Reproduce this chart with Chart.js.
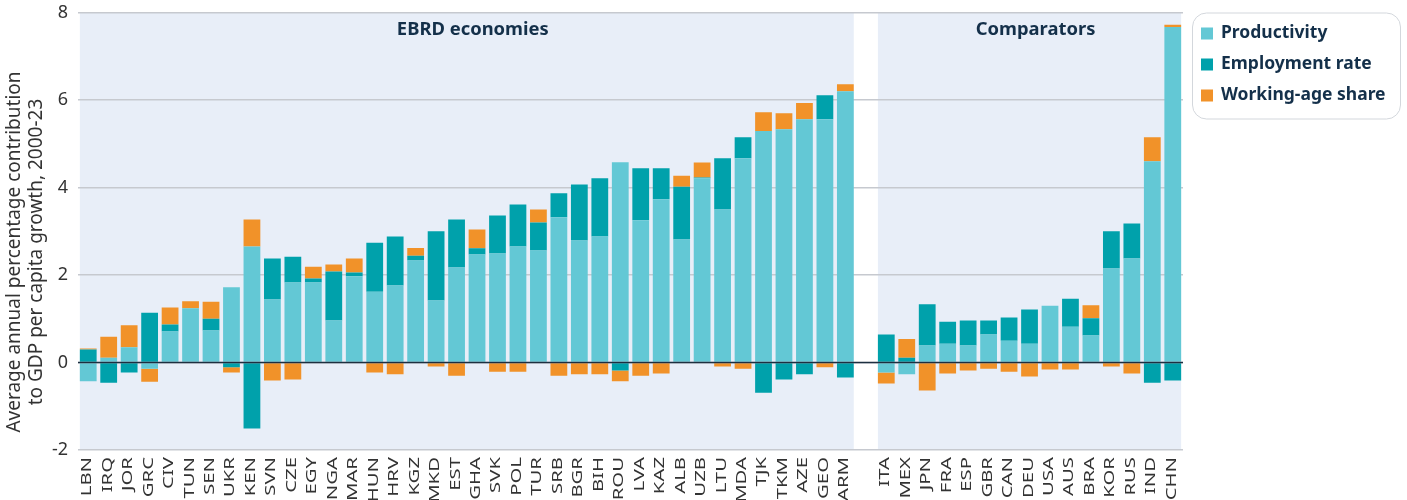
<!DOCTYPE html>
<html>
<head>
<meta charset="utf-8">
<script src="https://cdn.jsdelivr.net/npm/chart.js@4"></script>
<style>
  body { margin: 0; background: #fff; }
  canvas { display: block; }
</style>
</head>
<body>
<canvas id="chart" width="1407" height="500"></canvas>
<script>
// country codes: 38 EBRD economies, one empty slot as the gap, then 15 comparators
const ebrdCountries = ['LBN', 'IRQ', 'JOR', 'GRC', 'CIV', 'TUN', 'SEN', 'UKR', 'KEN', 'SVN', 'CZE', 'EGY', 'NGA', 'MAR',
    'HUN', 'HRV', 'KGZ', 'MKD', 'EST', 'GHA', 'SVK', 'POL', 'TUR', 'SRB', 'BGR', 'BIH', 'ROU', 'LVA', 'KAZ', 'ALB',
    'UZB', 'LTU', 'MDA', 'TJK', 'TKM', 'AZE', 'GEO', 'ARM'];
const comparatorCountries = ['ITA', 'MEX', 'JPN', 'FRA', 'ESP', 'GBR', 'CAN', 'DEU', 'USA', 'AUS', 'BRA', 'KOR', 'RUS', 'IND', 'CHN'];

const ebrdProductivity = [-0.43, 0.11, 0.35, -0.14, 0.71, 1.24, 0.73, 1.72, 2.65, 1.44, 1.83, 1.83, 0.96, 1.97,
    1.62, 1.76, 2.33, 1.42, 2.17, 2.47, 2.49, 2.65, 2.56, 3.32, 2.79, 2.88, 4.58, 3.25, 3.73, 2.81,
    4.21, 3.50, 4.67, 5.29, 5.33, 5.56, 5.56, 6.20];
const ebrdEmployment = [0.30, -0.46, -0.23, 1.14, 0.16, 0, 0.27, -0.11, -1.51, 0.94, 0.59, 0.09, 1.12, 0.09,
    1.12, 1.12, 0.11, 1.58, 1.10, 0.14, 0.87, 0.96, 0.64, 0.55, 1.28, 1.33, -0.18, 1.19, 0.71, 1.21,
    0.02, 1.17, 0.48, -0.69, -0.39, -0.27, 0.55, -0.34];
const ebrdWorkingAge = [0.02, 0.48, 0.50, -0.30, 0.39, 0.16, 0.39, -0.12, 0.62, -0.41, -0.39, 0.27, 0.16, 0.32,
    -0.23, -0.27, 0.18, -0.09, -0.30, 0.43, -0.21, -0.21, 0.30, -0.30, -0.27, -0.27, -0.25, -0.30, -0.25, 0.25,
    0.34, -0.09, -0.14, 0.43, 0.37, 0.37, -0.11, 0.16];

const compProductivity = [-0.23, -0.27, 0.39, 0.43, 0.39, 0.64, 0.50, 0.43, 1.30, 0.82, 0.62, 2.15, 2.38, 4.60, 7.67];
const compEmployment = [0.64, 0.11, 0.94, 0.50, 0.57, 0.32, 0.53, 0.78, 0, 0.64, 0.39, 0.85, 0.80, -0.46, -0.41];
const compWorkingAge = [-0.25, 0.43, -0.64, -0.25, -0.18, -0.14, -0.21, -0.32, -0.16, -0.16, 0.30, -0.09, -0.25, 0.55, 0.05];

const yTicks = [-2, 0, 2, 4, 6, 8];
const yTitle = ['Average annual percentage contribution', 'to GDP per capita growth, 2000-23'];
const seriesNames = ['Productivity', 'Employment rate', 'Working-age share'];
const seriesColors = ['#63c8d5', '#00a1ab', '#f19229'];
const panelTitles = ['EBRD economies', 'Comparators'];

const labels = [...ebrdCountries, '', ...comparatorCountries];
const productivity = [...ebrdProductivity, null, ...compProductivity];
const employment = [...ebrdEmployment, null, ...compEmployment];
const workingAge = [...ebrdWorkingAge, null, ...compWorkingAge];

const FONT = '"Noto Sans", "Open Sans", sans-serif';
const TEXT_DARK = '#14304a';
const BAR_SHARE = 0.82;

const panelPlugin = {
    id: 'panels',
    // shaded panels behind the two groups
    beforeDraw(chart) {
        const { ctx, chartArea, scales: { x } } = chart;
        const pitch = x.getPixelForValue(1) - x.getPixelForValue(0);
        const half = pitch * BAR_SHARE / 2;
        const n = ebrdCountries.length;
        ctx.save();
        ctx.fillStyle = '#e8eef8';
        const l1 = x.getPixelForValue(0) - half;
        const r1 = x.getPixelForValue(n - 1) + half;
        ctx.fillRect(l1, chartArea.top, r1 - l1, chartArea.bottom - chartArea.top);
        const l2 = x.getPixelForValue(n + 1) - half;
        const r2 = x.getPixelForValue(labels.length - 1) + half;
        ctx.fillRect(l2, chartArea.top, r2 - l2, chartArea.bottom - chartArea.top);
        ctx.restore();
    },
    afterDatasetsDraw(chart) {
        const { ctx, chartArea, scales: { x, y } } = chart;
        // zero line over the bars
        const y0 = y.getPixelForValue(0);
        ctx.save();
        ctx.strokeStyle = '#1d2f40';
        ctx.lineWidth = 1.5;
        ctx.beginPath();
        ctx.moveTo(chartArea.left, y0);
        ctx.lineTo(chartArea.right, y0);
        ctx.stroke();

        // panel titles
        const n = ebrdCountries.length;
        ctx.fillStyle = TEXT_DARK;
        ctx.font = 'bold 18.4px ' + FONT;
        ctx.textAlign = 'center';
        ctx.textBaseline = 'middle';
        const c1 = (x.getPixelForValue(0) + x.getPixelForValue(n - 1)) / 2;
        const c2 = (x.getPixelForValue(n + 1) + x.getPixelForValue(labels.length - 1)) / 2;
        ctx.fillText(panelTitles[0], c1 + 6, chartArea.top + 17);
        ctx.fillText(panelTitles[1], c2 + 6, chartArea.top + 17);

        // country labels, rotated and drawn a bit stretched like the original
        ctx.fillStyle = '#333';
        ctx.font = '14px ' + FONT;
        ctx.textAlign = 'right';
        labels.forEach((lab, i) => {
            if (!lab) return;
            ctx.save();
            ctx.translate(x.getPixelForValue(i) - 1, chartArea.bottom + 7);
            ctx.rotate(-Math.PI / 2);
            ctx.scale(1.45, 1);
            ctx.fillText(lab, 0, 0);
            ctx.restore();
        });

        // y axis title, centred on the whole figure height
        ctx.fillStyle = '#333';
        ctx.font = '19px ' + FONT;
        ctx.textAlign = 'center';
        [15, 36.5].forEach((tx, i) => {
            ctx.save();
            ctx.translate(tx, chart.height / 2 + 2);
            ctx.rotate(-Math.PI / 2);
            ctx.fillText(yTitle[i], 0, 0);
            ctx.restore();
        });
        ctx.restore();
    },
    // legend box on the right
    afterDraw(chart) {
        const { ctx, chartArea } = chart;
        const bx = chartArea.right + 9, by = chartArea.top, bw = 208, bh = 106;
        ctx.save();
        ctx.strokeStyle = '#d3d7dc';
        ctx.lineWidth = 1;
        ctx.beginPath();
        ctx.roundRect(bx + 0.5, by + 0.5, bw, bh, 14);
        ctx.stroke();
        ctx.font = 'bold 17.5px ' + FONT;
        ctx.textAlign = 'left';
        ctx.textBaseline = 'middle';
        seriesNames.forEach((name, i) => {
            const cy = by + 21 + i * 31;
            ctx.fillStyle = seriesColors[i];
            ctx.fillRect(bx + 9, cy - 6, 12, 12);
            ctx.fillStyle = TEXT_DARK;
            ctx.fillText(name, bx + 29, cy);
        });
        ctx.restore();
    }
};

const makeDataset = (i, data) => ({
    label: seriesNames[i],
    data: data,
    backgroundColor: seriesColors[i],
    borderWidth: 0,
    categoryPercentage: 1,
    barPercentage: BAR_SHARE
});

new Chart(document.getElementById('chart'), {
    type: 'bar',
    data: {
        labels: labels,
        datasets: [
            makeDataset(0, productivity),
            makeDataset(1, employment),
            makeDataset(2, workingAge)
        ]
    },
    plugins: [panelPlugin],
    options: {
        responsive: false,
        animation: false,
        devicePixelRatio: 1,
        layout: { padding: { top: 12.5, right: 224, bottom: 0, left: 0 } },
        plugins: {
            legend: { display: false },
            tooltip: { enabled: false }
        },
        scales: {
            x: {
                stacked: true,
                grid: { display: false },
                border: { display: false },
                ticks: { display: false },
                afterFit: (scale) => {
                    scale.height = 50;
                    scale.paddingLeft = 0;
                    scale.paddingRight = 0;
                }
            },
            y: {
                stacked: true,
                min: yTicks[0],
                max: yTicks[yTicks.length - 1],
                afterBuildTicks: (scale) => { scale.ticks = yTicks.map(v => ({ value: v })); },
                grid: { color: '#c6c9cf', lineWidth: 1.5, drawTicks: false },
                border: { display: false },
                ticks: {
                    padding: 10,
                    color: '#333',
                    font: { family: FONT, size: 18 }
                },
                afterFit: (scale) => {
                    scale.width = 78;
                    scale.paddingTop = 0;
                    scale.paddingBottom = 0;
                }
            }
        }
    }
});
</script>
</body>
</html>
